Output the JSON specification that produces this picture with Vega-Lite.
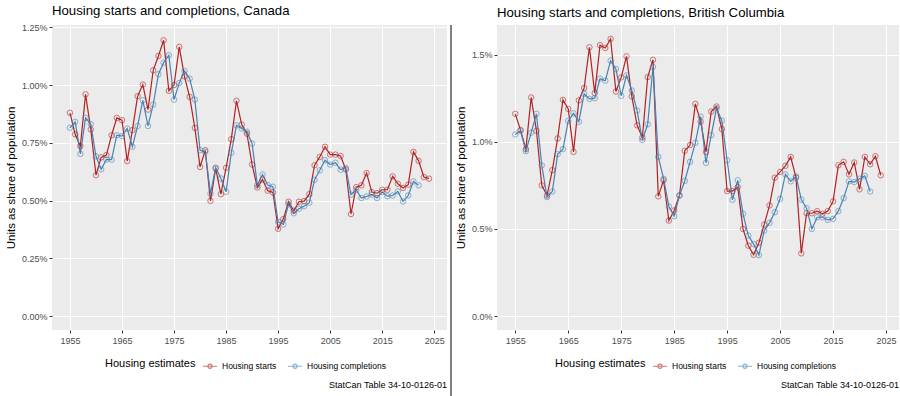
{
  "$schema": "https://vega.github.io/schema/vega-lite/v6.json",
  "padding": {"left": 5, "right": 4, "top": 4, "bottom": 0},
  "spacing": 3,
  "datasets": {
    "canada": [
      {"year":1955,"estimate":"Housing starts","share":0.880},{"year":1956,"estimate":"Housing starts","share":0.787},{"year":1957,"estimate":"Housing starts","share":0.736},{"year":1958,"estimate":"Housing starts","share":0.960},{"year":1959,"estimate":"Housing starts","share":0.808},
      {"year":1960,"estimate":"Housing starts","share":0.610},{"year":1961,"estimate":"Housing starts","share":0.687},{"year":1962,"estimate":"Housing starts","share":0.697},{"year":1963,"estimate":"Housing starts","share":0.783},{"year":1964,"estimate":"Housing starts","share":0.858},
      {"year":1965,"estimate":"Housing starts","share":0.848},{"year":1966,"estimate":"Housing starts","share":0.671},{"year":1967,"estimate":"Housing starts","share":0.805},{"year":1968,"estimate":"Housing starts","share":0.952},{"year":1969,"estimate":"Housing starts","share":1.002},
      {"year":1970,"estimate":"Housing starts","share":0.894},{"year":1971,"estimate":"Housing starts","share":1.064},{"year":1972,"estimate":"Housing starts","share":1.126},{"year":1973,"estimate":"Housing starts","share":1.194},{"year":1974,"estimate":"Housing starts","share":0.975},
      {"year":1975,"estimate":"Housing starts","share":1.000},{"year":1976,"estimate":"Housing starts","share":1.165},{"year":1977,"estimate":"Housing starts","share":1.038},{"year":1978,"estimate":"Housing starts","share":0.949},{"year":1979,"estimate":"Housing starts","share":0.815},
      {"year":1980,"estimate":"Housing starts","share":0.646},{"year":1981,"estimate":"Housing starts","share":0.718},{"year":1982,"estimate":"Housing starts","share":0.499},{"year":1983,"estimate":"Housing starts","share":0.639},{"year":1984,"estimate":"Housing starts","share":0.528},
      {"year":1985,"estimate":"Housing starts","share":0.642},{"year":1986,"estimate":"Housing starts","share":0.766},{"year":1987,"estimate":"Housing starts","share":0.932},{"year":1988,"estimate":"Housing starts","share":0.829},{"year":1989,"estimate":"Housing starts","share":0.790},
      {"year":1990,"estimate":"Housing starts","share":0.656},{"year":1991,"estimate":"Housing starts","share":0.557},{"year":1992,"estimate":"Housing starts","share":0.591},{"year":1993,"estimate":"Housing starts","share":0.543},{"year":1994,"estimate":"Housing starts","share":0.535},
      {"year":1995,"estimate":"Housing starts","share":0.378},{"year":1996,"estimate":"Housing starts","share":0.420},{"year":1997,"estimate":"Housing starts","share":0.495},{"year":1998,"estimate":"Housing starts","share":0.456},{"year":1999,"estimate":"Housing starts","share":0.495},
      {"year":2000,"estimate":"Housing starts","share":0.498},{"year":2001,"estimate":"Housing starts","share":0.528},{"year":2002,"estimate":"Housing starts","share":0.653},{"year":2003,"estimate":"Housing starts","share":0.689},{"year":2004,"estimate":"Housing starts","share":0.733},
      {"year":2005,"estimate":"Housing starts","share":0.699},{"year":2006,"estimate":"Housing starts","share":0.699},{"year":2007,"estimate":"Housing starts","share":0.693},{"year":2008,"estimate":"Housing starts","share":0.635},{"year":2009,"estimate":"Housing starts","share":0.442},
      {"year":2010,"estimate":"Housing starts","share":0.558},{"year":2011,"estimate":"Housing starts","share":0.566},{"year":2012,"estimate":"Housing starts","share":0.619},{"year":2013,"estimate":"Housing starts","share":0.537},{"year":2014,"estimate":"Housing starts","share":0.532},
      {"year":2015,"estimate":"Housing starts","share":0.547},{"year":2016,"estimate":"Housing starts","share":0.547},{"year":2017,"estimate":"Housing starts","share":0.605},{"year":2018,"estimate":"Housing starts","share":0.573},{"year":2019,"estimate":"Housing starts","share":0.555},
      {"year":2020,"estimate":"Housing starts","share":0.569},{"year":2021,"estimate":"Housing starts","share":0.711},{"year":2022,"estimate":"Housing starts","share":0.672},{"year":2023,"estimate":"Housing starts","share":0.602},{"year":2024,"estimate":"Housing starts","share":0.595},
      {"year":1955,"estimate":"Housing completions","share":0.815},{"year":1956,"estimate":"Housing completions","share":0.841},{"year":1957,"estimate":"Housing completions","share":0.702},{"year":1958,"estimate":"Housing completions","share":0.858},{"year":1959,"estimate":"Housing completions","share":0.831},
      {"year":1960,"estimate":"Housing completions","share":0.692},{"year":1961,"estimate":"Housing completions","share":0.635},{"year":1962,"estimate":"Housing completions","share":0.678},{"year":1963,"estimate":"Housing completions","share":0.677},{"year":1964,"estimate":"Housing completions","share":0.783},
      {"year":1965,"estimate":"Housing completions","share":0.779},{"year":1966,"estimate":"Housing completions","share":0.812},{"year":1967,"estimate":"Housing completions","share":0.733},{"year":1968,"estimate":"Housing completions","share":0.823},{"year":1969,"estimate":"Housing completions","share":0.934},
      {"year":1970,"estimate":"Housing completions","share":0.823},{"year":1971,"estimate":"Housing completions","share":0.916},{"year":1972,"estimate":"Housing completions","share":1.047},{"year":1973,"estimate":"Housing completions","share":1.097},{"year":1974,"estimate":"Housing completions","share":1.129},
      {"year":1975,"estimate":"Housing completions","share":0.937},{"year":1976,"estimate":"Housing completions","share":1.009},{"year":1977,"estimate":"Housing completions","share":1.061},{"year":1978,"estimate":"Housing completions","share":1.028},{"year":1979,"estimate":"Housing completions","share":0.937},
      {"year":1980,"estimate":"Housing completions","share":0.718},{"year":1981,"estimate":"Housing completions","share":0.711},{"year":1982,"estimate":"Housing completions","share":0.530},{"year":1983,"estimate":"Housing completions","share":0.643},{"year":1984,"estimate":"Housing completions","share":0.596},
      {"year":1985,"estimate":"Housing completions","share":0.538},{"year":1986,"estimate":"Housing completions","share":0.707},{"year":1987,"estimate":"Housing completions","share":0.826},{"year":1988,"estimate":"Housing completions","share":0.812},{"year":1989,"estimate":"Housing completions","share":0.798},
      {"year":1990,"estimate":"Housing completions","share":0.747},{"year":1991,"estimate":"Housing completions","share":0.567},{"year":1992,"estimate":"Housing completions","share":0.613},{"year":1993,"estimate":"Housing completions","share":0.567},{"year":1994,"estimate":"Housing completions","share":0.560},
      {"year":1995,"estimate":"Housing completions","share":0.408},{"year":1996,"estimate":"Housing completions","share":0.397},{"year":1997,"estimate":"Housing completions","share":0.485},{"year":1998,"estimate":"Housing completions","share":0.445},{"year":1999,"estimate":"Housing completions","share":0.465},
      {"year":2000,"estimate":"Housing completions","share":0.476},{"year":2001,"estimate":"Housing completions","share":0.491},{"year":2002,"estimate":"Housing completions","share":0.590},{"year":2003,"estimate":"Housing completions","share":0.631},{"year":2004,"estimate":"Housing completions","share":0.675},
      {"year":2005,"estimate":"Housing completions","share":0.656},{"year":2006,"estimate":"Housing completions","share":0.664},{"year":2007,"estimate":"Housing completions","share":0.634},{"year":2008,"estimate":"Housing completions","share":0.641},{"year":2009,"estimate":"Housing completions","share":0.526},
      {"year":2010,"estimate":"Housing completions","share":0.547},{"year":2011,"estimate":"Housing completions","share":0.511},{"year":2012,"estimate":"Housing completions","share":0.518},{"year":2013,"estimate":"Housing completions","share":0.526},{"year":2014,"estimate":"Housing completions","share":0.511},
      {"year":2015,"estimate":"Housing completions","share":0.537},{"year":2016,"estimate":"Housing completions","share":0.519},{"year":2017,"estimate":"Housing completions","share":0.522},{"year":2018,"estimate":"Housing completions","share":0.540},{"year":2019,"estimate":"Housing completions","share":0.496},
      {"year":2020,"estimate":"Housing completions","share":0.522},{"year":2021,"estimate":"Housing completions","share":0.583},{"year":2022,"estimate":"Housing completions","share":0.566}
    ],
    "bc": [
      {"year":1955,"estimate":"Housing starts","share":1.160},{"year":1956,"estimate":"Housing starts","share":1.067},{"year":1957,"estimate":"Housing starts","share":0.958},{"year":1958,"estimate":"Housing starts","share":1.254},{"year":1959,"estimate":"Housing starts","share":1.063},
      {"year":1960,"estimate":"Housing starts","share":0.750},{"year":1961,"estimate":"Housing starts","share":0.692},{"year":1962,"estimate":"Housing starts","share":0.837},{"year":1963,"estimate":"Housing starts","share":1.019},{"year":1964,"estimate":"Housing starts","share":1.240},
      {"year":1965,"estimate":"Housing starts","share":1.188},{"year":1966,"estimate":"Housing starts","share":0.942},{"year":1967,"estimate":"Housing starts","share":1.237},{"year":1968,"estimate":"Housing starts","share":1.308},{"year":1969,"estimate":"Housing starts","share":1.542},
      {"year":1970,"estimate":"Housing starts","share":1.279},{"year":1971,"estimate":"Housing starts","share":1.554},{"year":1972,"estimate":"Housing starts","share":1.538},{"year":1973,"estimate":"Housing starts","share":1.590},{"year":1974,"estimate":"Housing starts","share":1.288},
      {"year":1975,"estimate":"Housing starts","share":1.369},{"year":1976,"estimate":"Housing starts","share":1.490},{"year":1977,"estimate":"Housing starts","share":1.260},{"year":1978,"estimate":"Housing starts","share":1.094},{"year":1979,"estimate":"Housing starts","share":1.024},
      {"year":1980,"estimate":"Housing starts","share":1.371},{"year":1981,"estimate":"Housing starts","share":1.470},{"year":1982,"estimate":"Housing starts","share":0.687},{"year":1983,"estimate":"Housing starts","share":0.779},{"year":1984,"estimate":"Housing starts","share":0.548},
      {"year":1985,"estimate":"Housing starts","share":0.606},{"year":1986,"estimate":"Housing starts","share":0.692},{"year":1987,"estimate":"Housing starts","share":0.948},{"year":1988,"estimate":"Housing starts","share":0.981},{"year":1989,"estimate":"Housing starts","share":1.217},
      {"year":1990,"estimate":"Housing starts","share":1.115},{"year":1991,"estimate":"Housing starts","share":0.942},{"year":1992,"estimate":"Housing starts","share":1.173},{"year":1993,"estimate":"Housing starts","share":1.202},{"year":1994,"estimate":"Housing starts","share":1.073},
      {"year":1995,"estimate":"Housing starts","share":0.717},{"year":1996,"estimate":"Housing starts","share":0.717},{"year":1997,"estimate":"Housing starts","share":0.740},{"year":1998,"estimate":"Housing starts","share":0.500},{"year":1999,"estimate":"Housing starts","share":0.404},
      {"year":2000,"estimate":"Housing starts","share":0.352},{"year":2001,"estimate":"Housing starts","share":0.421},{"year":2002,"estimate":"Housing starts","share":0.525},{"year":2003,"estimate":"Housing starts","share":0.635},{"year":2004,"estimate":"Housing starts","share":0.794},
      {"year":2005,"estimate":"Housing starts","share":0.827},{"year":2006,"estimate":"Housing starts","share":0.862},{"year":2007,"estimate":"Housing starts","share":0.913},{"year":2008,"estimate":"Housing starts","share":0.794},{"year":2009,"estimate":"Housing starts","share":0.360},
      {"year":2010,"estimate":"Housing starts","share":0.590},{"year":2011,"estimate":"Housing starts","share":0.590},{"year":2012,"estimate":"Housing starts","share":0.602},{"year":2013,"estimate":"Housing starts","share":0.587},{"year":2014,"estimate":"Housing starts","share":0.602},
      {"year":2015,"estimate":"Housing starts","share":0.658},{"year":2016,"estimate":"Housing starts","share":0.865},{"year":2017,"estimate":"Housing starts","share":0.885},{"year":2018,"estimate":"Housing starts","share":0.813},{"year":2019,"estimate":"Housing starts","share":0.881},
      {"year":2020,"estimate":"Housing starts","share":0.727},{"year":2021,"estimate":"Housing starts","share":0.913},{"year":2022,"estimate":"Housing starts","share":0.871},{"year":2023,"estimate":"Housing starts","share":0.917},{"year":2024,"estimate":"Housing starts","share":0.808},
      {"year":1955,"estimate":"Housing completions","share":1.042},{"year":1956,"estimate":"Housing completions","share":1.063},{"year":1957,"estimate":"Housing completions","share":0.946},{"year":1958,"estimate":"Housing completions","share":1.052},{"year":1959,"estimate":"Housing completions","share":1.160},
      {"year":1960,"estimate":"Housing completions","share":0.865},{"year":1961,"estimate":"Housing completions","share":0.683},{"year":1962,"estimate":"Housing completions","share":0.715},{"year":1963,"estimate":"Housing completions","share":0.929},{"year":1964,"estimate":"Housing completions","share":0.958},
      {"year":1965,"estimate":"Housing completions","share":1.119},{"year":1966,"estimate":"Housing completions","share":1.163},{"year":1967,"estimate":"Housing completions","share":1.115},{"year":1968,"estimate":"Housing completions","share":1.275},{"year":1969,"estimate":"Housing completions","share":1.246},
      {"year":1970,"estimate":"Housing completions","share":1.250},{"year":1971,"estimate":"Housing completions","share":1.362},{"year":1972,"estimate":"Housing completions","share":1.350},{"year":1973,"estimate":"Housing completions","share":1.465},{"year":1974,"estimate":"Housing completions","share":1.417},
      {"year":1975,"estimate":"Housing completions","share":1.263},{"year":1976,"estimate":"Housing completions","share":1.381},{"year":1977,"estimate":"Housing completions","share":1.294},{"year":1978,"estimate":"Housing completions","share":1.179},{"year":1979,"estimate":"Housing completions","share":1.010},
      {"year":1980,"estimate":"Housing completions","share":1.100},{"year":1981,"estimate":"Housing completions","share":1.429},{"year":1982,"estimate":"Housing completions","share":0.913},{"year":1983,"estimate":"Housing completions","share":0.788},{"year":1984,"estimate":"Housing completions","share":0.629},
      {"year":1985,"estimate":"Housing completions","share":0.573},{"year":1986,"estimate":"Housing completions","share":0.692},{"year":1987,"estimate":"Housing completions","share":0.775},{"year":1988,"estimate":"Housing completions","share":0.885},{"year":1989,"estimate":"Housing completions","share":0.994},
      {"year":1990,"estimate":"Housing completions","share":1.144},{"year":1991,"estimate":"Housing completions","share":0.879},{"year":1992,"estimate":"Housing completions","share":1.038},{"year":1993,"estimate":"Housing completions","share":1.192},{"year":1994,"estimate":"Housing completions","share":1.121},
      {"year":1995,"estimate":"Housing completions","share":0.894},{"year":1996,"estimate":"Housing completions","share":0.667},{"year":1997,"estimate":"Housing completions","share":0.779},{"year":1998,"estimate":"Housing completions","share":0.587},{"year":1999,"estimate":"Housing completions","share":0.462},
      {"year":2000,"estimate":"Housing completions","share":0.413},{"year":2001,"estimate":"Housing completions","share":0.350},{"year":2002,"estimate":"Housing completions","share":0.490},{"year":2003,"estimate":"Housing completions","share":0.535},{"year":2004,"estimate":"Housing completions","share":0.596},
      {"year":2005,"estimate":"Housing completions","share":0.673},{"year":2006,"estimate":"Housing completions","share":0.813},{"year":2007,"estimate":"Housing completions","share":0.773},{"year":2008,"estimate":"Housing completions","share":0.802},{"year":2009,"estimate":"Housing completions","share":0.669},
      {"year":2010,"estimate":"Housing completions","share":0.619},{"year":2011,"estimate":"Housing completions","share":0.500},{"year":2012,"estimate":"Housing completions","share":0.567},{"year":2013,"estimate":"Housing completions","share":0.567},{"year":2014,"estimate":"Housing completions","share":0.552},
      {"year":2015,"estimate":"Housing completions","share":0.558},{"year":2016,"estimate":"Housing completions","share":0.602},{"year":2017,"estimate":"Housing completions","share":0.677},{"year":2018,"estimate":"Housing completions","share":0.773},{"year":2019,"estimate":"Housing completions","share":0.769},
      {"year":2020,"estimate":"Housing completions","share":0.788},{"year":2021,"estimate":"Housing completions","share":0.804},{"year":2022,"estimate":"Housing completions","share":0.715}
    ],
    "sep": [{"v": 0}]
  },
  "resolve": {"scale": {"color": "independent"}, "legend": {"color": "independent"}},
  "hconcat": [
    {
      "resolve": {"scale": {"color": "independent"}, "legend": {"color": "independent"}},
      "title": {"text": "StatCan Table 34-10-0126-01", "orient": "bottom", "anchor": "end", "fontSize": 9, "fontWeight": "normal", "color": "#000000", "offset": 10},
      "vconcat": [
        {
          "width": 395,
          "height": 305,
          "title": {"text": "Housing starts and completions, Canada", "anchor": "start", "frame": "group", "fontSize": 13.2, "fontWeight": "normal", "color": "#000000", "offset": 5},
          "data": {"name": "canada"},
          "resolve": {"axis": {"x": "independent", "y": "independent"}},
          "layer": [
            {
              "mark": {"type": "line", "strokeWidth": 1.2},
              "encoding": {
                "x": {"field": "year", "type": "quantitative", "scale": {"domain": [1951.55, 2027.45], "nice": false, "zero": false},
                      "axis": {"title": null, "values": [1955, 1965, 1975, 1985, 1995, 2005, 2015, 2025], "format": "d", "labelFlush": false, "gridWidth": 1.1, "labelPadding": 3}},
                "y": {"field": "share", "type": "quantitative", "scale": {"domain": [-0.06, 1.26], "nice": false, "zero": false},
                      "axis": {"title": "Units as share of population", "values": [0, 0.25, 0.5, 0.75, 1, 1.25], "labelExpr": "format(datum.value, '.2f') + '%'", "gridWidth": 1.1, "labelPadding": 2, "titlePadding": 5}},
                "color": {"field": "estimate", "type": "nominal", "scale": {"domain": ["Housing starts", "Housing completions"], "range": ["#B22222", "#4682B4"]},
                          "legend": {"title": "Housing estimates", "orient": "none", "legendX": 53, "legendY": 333}}
              }
            },
            {
              "mark": {"type": "point", "filled": false, "size": 30, "strokeWidth": 1, "opacity": 0.6},
              "encoding": {
                "x": {"field": "year", "type": "quantitative", "axis": {"orient": "top", "title": null, "values": [1960, 1970, 1980, 1990, 2000, 2010, 2020], "labels": false, "ticks": false, "domain": false, "gridWidth": 0.5}},
                "y": {"field": "share", "type": "quantitative", "axis": {"orient": "right", "title": null, "values": [0.125, 0.375, 0.625, 0.875, 1.125], "labels": false, "ticks": false, "domain": false, "gridWidth": 0.5}},
                "color": {"field": "estimate", "type": "nominal", "legend": {"title": "Housing estimates", "orient": "none", "legendX": 53, "legendY": 333}}
              }
            }
          ]
        }
      ]
    },
    {
      "width": 2,
      "height": 392,
      "view": {"fill": null, "stroke": null},
      "data": {"name": "sep"},
      "mark": {"type": "rule", "color": "#808080", "strokeWidth": 2},
      "encoding": {"x": {"field": "v", "type": "quantitative", "scale": {"domain": [-1, 1]}, "axis": null}}
    },
    {
      "resolve": {"scale": {"color": "independent"}, "legend": {"color": "independent"}},
      "title": {"text": "StatCan Table 34-10-0126-01", "orient": "bottom", "anchor": "end", "fontSize": 9, "fontWeight": "normal", "color": "#000000", "offset": 10},
      "vconcat": [
        {
          "width": 402,
          "height": 305,
          "title": {"text": "Housing starts and completions, British Columbia", "anchor": "start", "frame": "group", "fontSize": 13.2, "fontWeight": "normal", "color": "#000000", "offset": 5},
          "data": {"name": "bc"},
          "resolve": {"axis": {"x": "independent", "y": "independent"}},
          "layer": [
            {
              "mark": {"type": "line", "strokeWidth": 1.2},
              "encoding": {
                "x": {"field": "year", "type": "quantitative", "scale": {"domain": [1951.55, 2027.45], "nice": false, "zero": false},
                      "axis": {"title": null, "values": [1955, 1965, 1975, 1985, 1995, 2005, 2015, 2025], "format": "d", "labelFlush": false, "gridWidth": 1.1, "labelPadding": 3}},
                "y": {"field": "share", "type": "quantitative", "scale": {"domain": [-0.0795, 1.6695], "nice": false, "zero": false},
                      "axis": {"title": "Units as share of population", "values": [0, 0.5, 1, 1.5], "labelExpr": "format(datum.value, '.1f') + '%'", "gridWidth": 1.1, "labelPadding": 2, "titlePadding": 5}},
                "color": {"field": "estimate", "type": "nominal", "scale": {"domain": ["Housing starts", "Housing completions"], "range": ["#B22222", "#4682B4"]},
                          "legend": {"title": "Housing estimates", "orient": "none", "legendX": 58, "legendY": 333}}
              }
            },
            {
              "mark": {"type": "point", "filled": false, "size": 30, "strokeWidth": 1, "opacity": 0.6},
              "encoding": {
                "x": {"field": "year", "type": "quantitative", "axis": {"orient": "top", "title": null, "values": [1960, 1970, 1980, 1990, 2000, 2010, 2020], "labels": false, "ticks": false, "domain": false, "gridWidth": 0.5}},
                "y": {"field": "share", "type": "quantitative", "axis": {"orient": "right", "title": null, "values": [0.25, 0.75, 1.25], "labels": false, "ticks": false, "domain": false, "gridWidth": 0.5}},
                "color": {"field": "estimate", "type": "nominal", "legend": {"title": "Housing estimates", "orient": "none", "legendX": 58, "legendY": 333}}
              }
            }
          ]
        }
      ]
    }
  ],
  "config": {
    "font": "Liberation Sans",
    "view": {"fill": "#EBEBEB", "stroke": null},
    "axis": {"labelColor": "#4D4D4D", "labelFontSize": 9, "tickColor": "#333333", "tickSize": 3, "domain": false, "gridColor": "#FFFFFF", "titleFontWeight": "normal", "titleColor": "#000000", "titleFontSize": 11.5},
    "legend": {"direction": "horizontal", "titleOrient": "left", "titleFontSize": 11, "titleFontWeight": "normal", "titleColor": "#000000", "titlePadding": 6, "labelFontSize": 8.5, "labelColor": "#000000", "symbolType": "M-1,0H1M-0.3,0a0.3,0.3 0 1,0 0.6,0a0.3,0.3 0 1,0 -0.6,0", "symbolSize": 200, "symbolStrokeWidth": 1.2, "columnPadding": 8}
  }
}
